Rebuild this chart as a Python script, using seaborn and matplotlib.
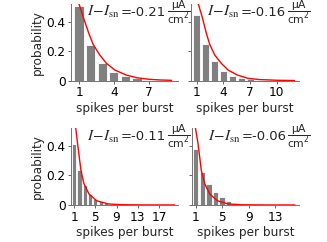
import numpy as np
import pandas as pd
import matplotlib
matplotlib.use("Agg")
import matplotlib.pyplot as plt
import seaborn as sns
from matplotlib.offsetbox import TextArea, HPacker, AnchoredOffsetbox

# ---- data ----
labels = ["-0.21", "-0.16", "-0.11", "-0.06"]

spikes_a = list(range(1, 10))
prob_a = [0.506, 0.242, 0.118, 0.061, 0.032, 0.015, 0.008, 0.004, 0.002]
spikes_b = list(range(1, 13))
prob_b = [0.445, 0.247, 0.134, 0.068, 0.030, 0.018, 0.009, 0.005, 0.003, 0.002, 0.001, 0.001]
spikes_c = list(range(1, 21))
prob_c = [0.413, 0.235, 0.132, 0.075, 0.041, 0.025, 0.014, 0.008, 0.005, 0.003,
          0.002, 0.001, 0.001, 0.0008, 0.0006, 0.0005, 0.0004, 0.0003, 0.0002, 0.0002]
spikes_d = list(range(1, 17))
prob_d = [0.377, 0.224, 0.144, 0.087, 0.052, 0.026, 0.014, 0.008, 0.005, 0.003,
          0.002, 0.001, 0.001, 0.001, 0.0005, 0.0005]

fit_x_a = [0.9, 0.97, 1.35, 1.84, 2.21, 2.79, 3.36, 4.09, 5.07, 6.0, 7.0, 8.0, 9.0]
fit_y_a = [0.56, 0.525, 0.434, 0.321, 0.247, 0.174, 0.118, 0.0725, 0.0386, 0.02, 0.01, 0.005, 0.0025]
fit_x_b = [1.1, 1.15, 1.6, 2.08, 2.45, 3.02, 3.76, 4.52, 5.56, 6.76, 8.0, 10.0, 12.0]
fit_y_b = [0.55, 0.525, 0.434, 0.321, 0.247, 0.174, 0.118, 0.0725, 0.0386, 0.016, 0.008, 0.003, 0.001]
fit_x_c = [1.2, 1.25, 1.63, 1.95, 2.27, 2.84, 3.79, 5.23, 7.45, 10.0, 14.0, 20.0]
fit_y_c = [0.56, 0.532, 0.418, 0.327, 0.235, 0.144, 0.075, 0.029, 0.007, 0.002, 0.0005, 0.0001]
fit_x_d = [0.9, 0.94, 1.35, 1.6, 1.85, 2.36, 3.12, 4.27, 5.9, 8.0, 12.0, 16.0]
fit_y_d = [0.56, 0.527, 0.418, 0.327, 0.235, 0.144, 0.075, 0.029, 0.007, 0.0015, 0.0002, 0.0001]

xticks_list = [[1, 4, 7], [1, 4, 7, 10], [1, 5, 9, 13, 17], [1, 5, 9, 13]]
xlims = [(0.3, 9.55), (0.35, 12.5), (0.4, 20.6), (0.45, 16.6)]
yticks = [0, 0.2, 0.4]
ytick_labels = ["0", "0.2", "0.4"]

# ---- style ----
sns.set_style("ticks")
plt.rcParams["font.family"] = ["DejaVu Sans"]
plt.rcParams["mathtext.fontset"] = "custom"
plt.rcParams["mathtext.it"] = "STIXGeneral:italic"
plt.rcParams["mathtext.rm"] = "STIXGeneral"
plt.rcParams["mathtext.sf"] = "DejaVu Sans"

FS = 8.7
W, H = 327, 242
fig = plt.figure(figsize=(W / 100, H / 100), dpi=100)

rects = [
    (71, 4, 107, 76.7),
    (191, 4, 108, 76.7),
    (71, 128, 107, 77),
    (192, 128, 107, 77),
]

data = [
    (spikes_a, prob_a, fit_x_a, fit_y_a),
    (spikes_b, prob_b, fit_x_b, fit_y_b),
    (spikes_c, prob_c, fit_x_c, fit_y_c),
    (spikes_d, prob_d, fit_x_d, fit_y_d),
]

for i, ((x0, y0, w, h), (sx, sp, fx, fy)) in enumerate(zip(rects, data)):
    ax = fig.add_axes([x0 / W, 1 - (y0 + h) / H, w / W, h / H])
    df = pd.DataFrame({"spikes": sx, "prob": sp})
    sns.barplot(data=df, x="spikes", y="prob", native_scale=True, width=0.8,
                color="#808080", saturation=1, edgecolor="white", linewidth=0.6,
                ax=ax)
    dff = pd.DataFrame({"x": fx, "y": fy})
    sns.lineplot(data=dff, x="x", y="y", color="red", linewidth=1.0, ax=ax)
    ax.set_xlim(*xlims[i])
    ax.set_ylim(0, 0.52)
    ax.set_xticks(xticks_list[i])
    ax.set_xticklabels([str(t) for t in xticks_list[i]], fontsize=FS)
    ax.set_yticks(yticks)
    if i % 2 == 0:
        ax.set_yticklabels(ytick_labels, fontsize=FS)
        ax.set_ylabel("probability", fontsize=FS, labelpad=2)
    else:
        ax.set_yticklabels([])
        ax.set_ylabel("")
    ax.set_xlabel("spikes per burst", fontsize=FS, labelpad=2)
    ax.tick_params(length=2, width=0.6, pad=2, colors="0.3", labelcolor="black")
    for s in ["top", "right"]:
        ax.spines[s].set_visible(False)
    for s in ["left", "bottom"]:
        ax.spines[s].set_color("0.45")
        ax.spines[s].set_linewidth(0.7)

    t1 = TextArea(r"$I\!-\!I_{\rm sn}$", textprops=dict(fontsize=11))
    t2 = TextArea("=" + labels[i], textprops=dict(fontsize=9.5))
    t3 = TextArea(r"$\dfrac{\mathsf{\mu A}}{\mathsf{cm^2}}$", textprops=dict(fontsize=7.8))
    pack = HPacker(children=[t1, t2, t3], align="center", pad=0, sep=0.5)
    ab = AnchoredOffsetbox(loc="center left", child=pack, pad=0, borderpad=0,
                           frameon=False, bbox_to_anchor=(0.15, 0.89),
                           bbox_transform=ax.transAxes)
    ab.set_clip_on(False)
    ax.add_artist(ab)

fig.savefig("out.png", dpi=100)
